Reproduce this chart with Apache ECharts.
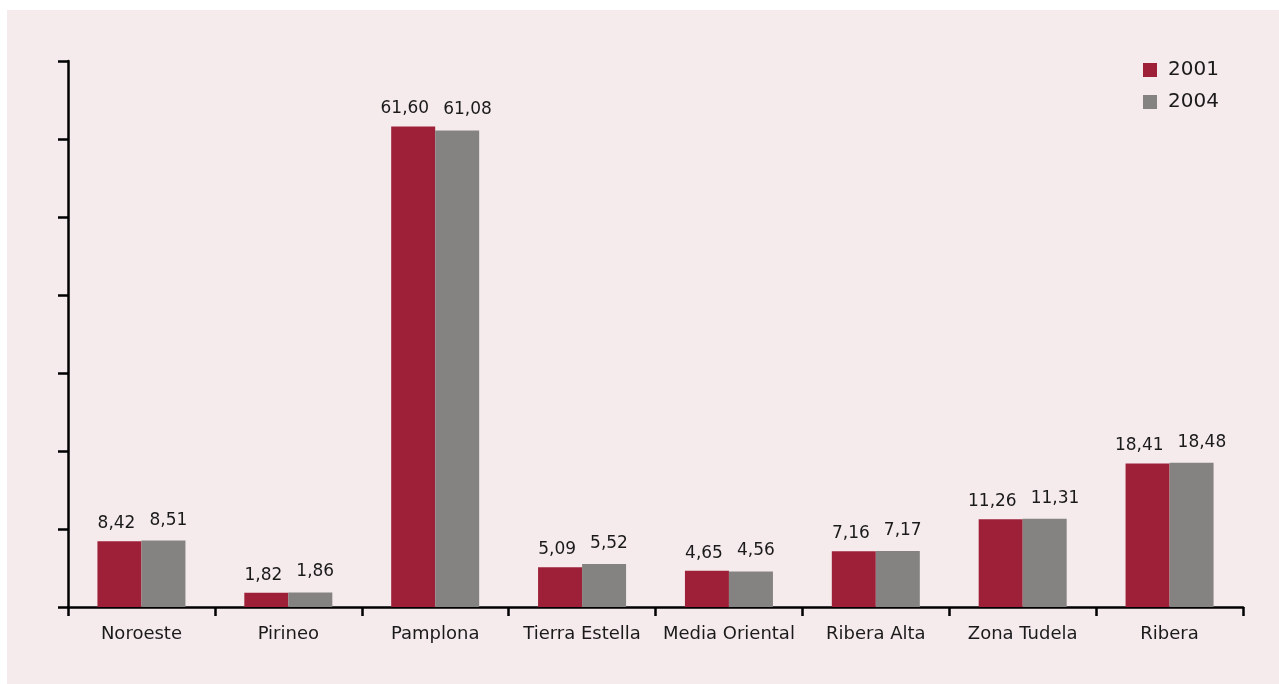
<!DOCTYPE html>
<html>
<head>
<meta charset="utf-8">
<script src="https://cdn.jsdelivr.net/npm/echarts@6/dist/echarts.min.js"></script>
<style>
  html, body { margin: 0; padding: 0; background: #ffffff; }
  #chart { position: absolute; left: 7px; top: 10px; width: 1272px; height: 674px; }
</style>
</head>
<body>
<div id="chart"></div>
<script>
// Comarcas and their share (%) for each year
const categories = ['Noroeste', 'Pirineo', 'Pamplona', 'Tierra Estella', 'Media Oriental', 'Ribera Alta', 'Zona Tudela', 'Ribera'];
const values2001 = [8.42, 1.82, 61.60, 5.09, 4.65, 7.16, 11.26, 18.41];
const values2004 = [8.51, 1.86, 61.08, 5.52, 4.56, 7.17, 11.31, 18.48];
const seriesNames = ['2001', '2004'];

const FONT = 'DejaVu Sans';
const fmt = v => v.toFixed(2).replace('.', ',');

const chart = echarts.init(document.getElementById('chart'), null, { renderer: 'canvas' });

// Value labels of the first year lean left, those of the second lean right
function barSeries(name, data, color, align, dx, dist) {
  return {
    name: name,
    type: 'bar',
    data: data,
    barWidth: 44,
    barGap: '0%',
    itemStyle: { color: color },
    label: {
      show: true,
      position: 'top',
      distance: dist,
      align: align,
      offset: [dx, 0],
      color: '#1a1a1a',
      fontFamily: FONT,
      fontSize: 17,
      formatter: p => fmt(p.value)
    }
  };
}

chart.setOption({
  backgroundColor: '#f5eaec',
  animation: false,
  textStyle: { fontFamily: FONT },
  legend: {
    orient: 'vertical',
    left: 1131,
    top: 45,
    itemWidth: 14,
    itemHeight: 14,
    itemGap: 12,
    icon: 'rect',
    textStyle: { fontFamily: FONT, fontSize: 20, color: '#1a1a1a', padding: [0, 0, 0, 6] },
    data: seriesNames
  },
  grid: { left: 61, right: 36, top: 51, bottom: 77 },
  xAxis: {
    type: 'category',
    data: categories,
    boundaryGap: true,
    axisLine: { lineStyle: { color: '#000', width: 2.5 } },
    axisTick: { show: true, interval: 0, length: 9, lineStyle: { color: '#000', width: 2.5 } },
    axisLabel: { interval: 0, color: '#1a1a1a', fontFamily: FONT, fontSize: 18, margin: 18 }
  },
  yAxis: {
    type: 'value',
    min: 0,
    max: 70,
    interval: 10,
    axisLine: { show: true, lineStyle: { color: '#000', width: 2.5 } },
    axisTick: { show: true, length: 10, lineStyle: { color: '#000', width: 2.5 } },
    axisLabel: { show: false },
    splitLine: { show: false }
  },
  series: [
    barSeries(seriesNames[0], values2001, '#9d2038', 'right', 16, 9),
    barSeries(seriesNames[1], values2004, '#858381', 'left', -14, 12)
  ]
});
</script>
</body>
</html>
